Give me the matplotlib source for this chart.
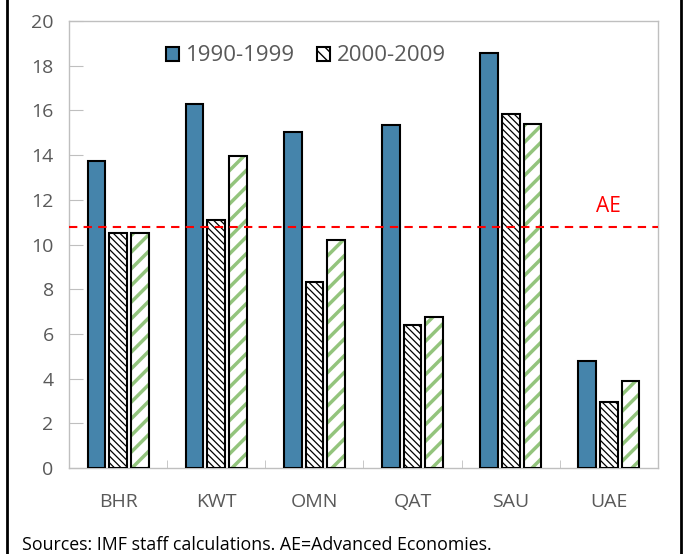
import matplotlib
matplotlib.use("Agg")
import matplotlib.pyplot as plt
import numpy as np
from matplotlib.patches import Rectangle

plt.rcParams['font.family'] = ['Open Sans', 'DejaVu Sans']

countries = ["BHR", "KWT", "OMN", "QAT", "SAU", "UAE"]
s1990 = [13.75, 16.3, 15.05, 15.35, 18.55, 4.8]
s2000 = [10.5, 11.1, 8.3, 6.4, 15.85, 2.95]
s2010 = [10.5, 13.95, 10.2, 6.75, 15.4, 3.9]
ae_level = 10.8
legend_labels = ["1990-1999", "2000-2009"]

fig = plt.figure(figsize=(6.83, 5.54), dpi=100)
ax = fig.add_axes([69/683, 1-468/554, (658-69)/683, (468-21)/554])

x = np.arange(len(countries))
w = 0.18
off = 0.22
gray = '#595959'

b1 = ax.bar(x - off, s1990, w, color='#4584ab', edgecolor='black', linewidth=1.5, zorder=3)

with plt.rc_context({'hatch.linewidth': 0.9, 'hatch.color': 'black'}):
    b2 = ax.bar(x, s2000, w, color='white', edgecolor='black', hatch='\\\\\\\\\\', linewidth=0, zorder=3)
ax.bar(x, s2000, w, fill=False, edgecolor='black', linewidth=1.5, zorder=4)

with plt.rc_context({'hatch.linewidth': 2.5}):
    b3 = ax.bar(x + off, s2010, w, color='white', edgecolor='#93c47d', hatch='//', linewidth=0, zorder=3)
ax.bar(x + off, s2010, w, fill=False, edgecolor='black', linewidth=1.5, zorder=4)

ax.axhline(ae_level, color='#ff0000', linestyle=(0, (4, 3)), linewidth=1.5, zorder=5)
ax.text(5.0, ae_level + 0.45, "AE", color='#ff0000', fontsize=15, ha='center', va='bottom')

ax.set_xlim(-0.5, 5.5)
ax.set_ylim(0, 20)
ax.set_yticks(np.arange(0, 21, 2))
ax.set_xticks(x)
ax.set_xticklabels(countries)
ax.set_xticks(np.arange(-0.5, 6.0, 1.0), minor=True)
ax.tick_params(axis='y', direction='in', length=10, color='#bfbfbf', labelcolor=gray, labelsize=14, pad=11)
ax.tick_params(axis='x', which='major', length=0, labelcolor=gray, labelsize=14, pad=18)
ax.tick_params(axis='x', which='minor', direction='in', length=6, color='#bfbfbf')
for s in ax.spines.values():
    s.set_color('#bfbfbf')
    s.set_linewidth(1)

h1 = Rectangle((0, 0), 1, 1, facecolor='#4584ab', edgecolor='black', linewidth=1.5)
with plt.rc_context({'hatch.linewidth': 1.0}):
    h2 = Rectangle((0, 0), 1, 1, facecolor='white', edgecolor='black', hatch='\\\\\\', linewidth=1.5)
leg = ax.legend([h1, h2], legend_labels, loc='upper left', bbox_to_anchor=(0.13, 0.99), ncol=2,
                frameon=False, fontsize=16, handlelength=0.6, handleheight=0.6, handletextpad=0.3,
                columnspacing=1.0)
for t in leg.get_texts():
    t.set_color(gray)

fig.text(22/683, 1-545/554, "Sources: IMF staff calculations. AE=Advanced Economies.", fontsize=12.8, color='black', va='center')

fig.add_artist(plt.Line2D([7/683, 7/683], [0, 1], color='black', linewidth=2, transform=fig.transFigure))
fig.add_artist(plt.Line2D([681/683, 681/683], [0, 1], color='black', linewidth=2, transform=fig.transFigure))

fig.savefig("out.png", dpi=100)
